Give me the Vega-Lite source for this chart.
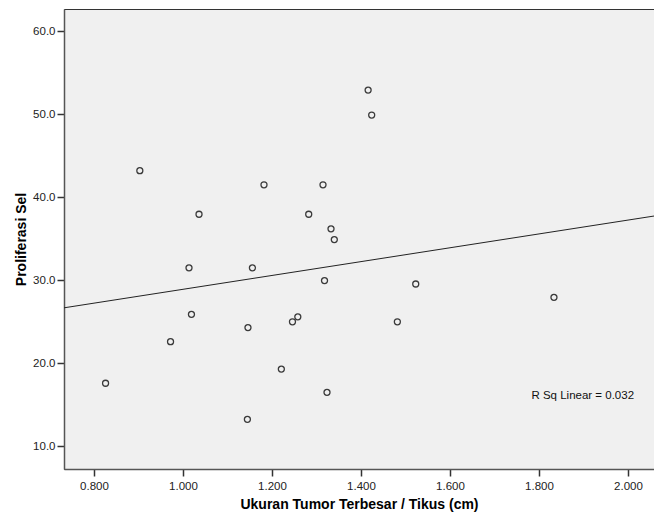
{
  "$schema": "https://vega.github.io/schema/vega-lite/v6.json",
  "width": 590,
  "height": 460,
  "autosize": "none",
  "padding": {"left": 64, "top": 9, "right": 0, "bottom": 52},
  "background": "white",
  "config": {
    "font": "Liberation Sans",
    "view": {"fill": "#f0f0f0", "stroke": "#333333", "strokeWidth": 1},
    "axis": {
      "grid": false,
      "domainColor": "#555555",
      "domainWidth": 1.5,
      "tickColor": "#333333",
      "tickSize": 7,
      "tickWidth": 1.5,
      "labelFont": "Liberation Sans",
      "labelFontSize": 11.5,
      "labelColor": "#222222",
      "titleFont": "Liberation Sans",
      "titleFontSize": 14,
      "titleFontWeight": "bold",
      "titleColor": "#000000"
    }
  },
  "data": {
    "values": [
      {"x": 0.826, "y": 17.6},
      {"x": 0.903, "y": 43.2},
      {"x": 0.972, "y": 22.6},
      {"x": 1.0135, "y": 31.5},
      {"x": 1.019, "y": 25.9},
      {"x": 1.036, "y": 37.95},
      {"x": 1.1447, "y": 13.25},
      {"x": 1.146, "y": 24.3},
      {"x": 1.156, "y": 31.5},
      {"x": 1.182, "y": 41.5},
      {"x": 1.221, "y": 19.3},
      {"x": 1.246, "y": 25.0},
      {"x": 1.258, "y": 25.6},
      {"x": 1.2825, "y": 37.95},
      {"x": 1.3146, "y": 41.5},
      {"x": 1.318, "y": 29.96},
      {"x": 1.3236, "y": 16.5},
      {"x": 1.3326, "y": 36.2},
      {"x": 1.34, "y": 34.9},
      {"x": 1.416, "y": 52.9},
      {"x": 1.424, "y": 49.9},
      {"x": 1.4817, "y": 25.0},
      {"x": 1.523, "y": 29.55},
      {"x": 1.8336, "y": 27.95}
    ]
  },
  "encoding": {
    "x": {
      "field": "x",
      "type": "quantitative",
      "scale": {"domain": [0.7326, 2.0584], "nice": false, "zero": false},
      "axis": {
        "title": "Ukuran Tumor Terbesar / Tikus (cm)",
        "values": [0.8, 1.0, 1.2, 1.4, 1.6, 1.8, 2.0],
        "format": ".3f",
        "labelPadding": 4,
        "titlePadding": 6
      }
    },
    "y": {
      "field": "y",
      "type": "quantitative",
      "scale": {"domain": [7.27, 62.67], "nice": false, "zero": false},
      "axis": {
        "title": "Proliferasi Sel",
        "values": [10, 20, 30, 40, 50, 60],
        "format": ".1f",
        "labelPadding": 2,
        "titlePadding": 4
      }
    }
  },
  "layer": [
    {
      "mark": {"type": "point", "filled": false, "stroke": "#3a3a3a", "strokeWidth": 1.3, "size": 36, "opacity": 1}
    },
    {
      "transform": [{"regression": "y", "on": "x", "extent": [0.7326, 2.0584]}],
      "mark": {"type": "line", "color": "#222222", "strokeWidth": 1}
    },
    {
      "data": {"values": [{"x": 1.783, "y": 16.1, "label": "R Sq Linear = 0.032"}]},
      "mark": {"type": "text", "align": "left", "baseline": "middle", "fontSize": 11.5, "color": "#111111", "font": "Liberation Sans"},
      "encoding": {"text": {"field": "label"}}
    }
  ]
}
